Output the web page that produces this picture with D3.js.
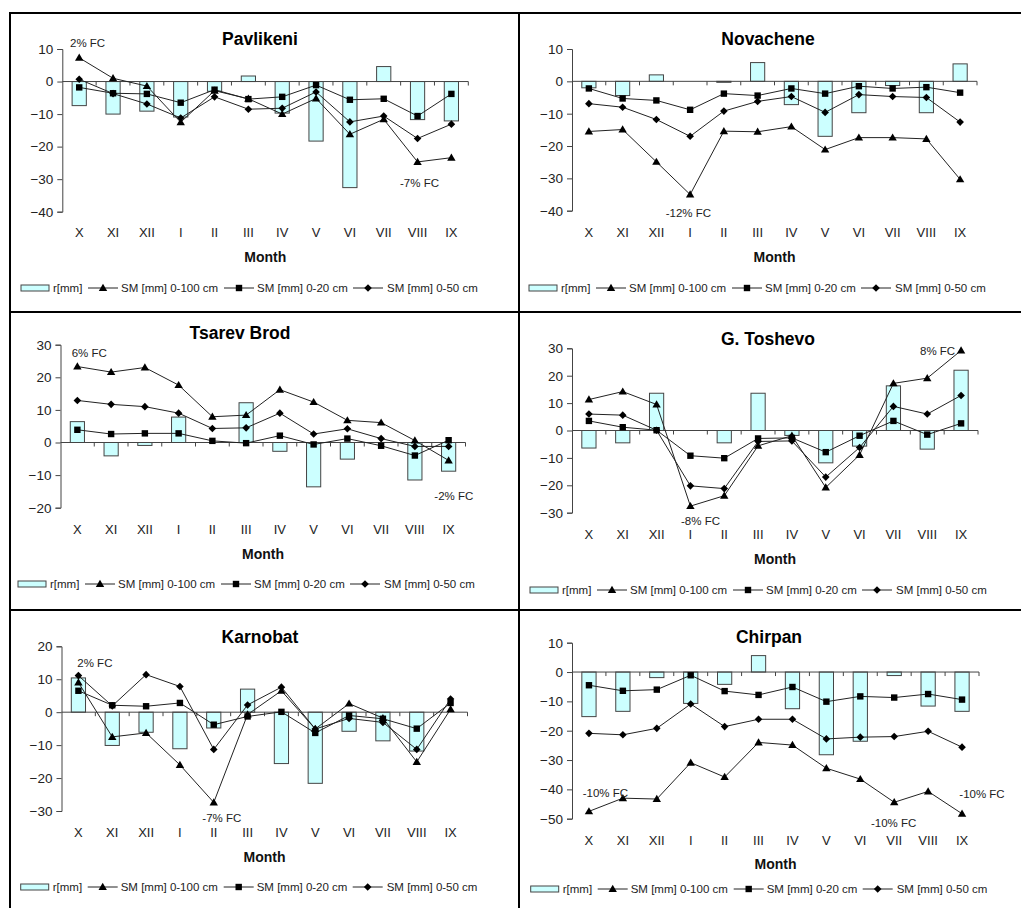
<!DOCTYPE html>
<html><head><meta charset="utf-8">
<script src="https://cdn.jsdelivr.net/npm/d3@7"></script>
<style>
body{margin:0;background:#fff}
svg{display:block}
text{font-family:Arial,"Liberation Sans",sans-serif}
</style>
</head><body>
<svg id="c" width="1021" height="908"></svg>
<script>
// ---------- DATA ----------
const months = ["X","XI","XII","I","II","III","IV","V","VI","VII","VIII","IX"];
const legendLabels = ["r[mm]","SM [mm] 0-100 cm","SM [mm] 0-20 cm","SM [mm] 0-50 cm"];

const pavR     = [-7.4,-10,-9.1,-10.9,-3,1.7,-9.7,-18.3,-32.6,4.6,-11.7,-12.1];
const pavSM100 = [7.3,1.0,-1.4,-12.5,-2.8,-5.3,-10,-5.2,-16.2,-11.6,-24.7,-23.4];
const pavSM20  = [-1.8,-3.6,-3.8,-6.5,-2.5,-5.4,-4.7,-1.1,-5.6,-5.3,-10.6,-3.8];
const pavSM50  = [0.7,-3.7,-6.9,-11.2,-4.7,-8.5,-8.2,-3.2,-12.4,-10.6,-17.5,-13.1];
const pavTicks = [10,0,-10,-20,-30,-40];
const pavNotes = ["2% FC","-7% FC"];

const novR     = [-2,-4.4,2,0,-0.3,5.8,-7.2,-17,-9.7,-1.3,-9.7,5.4];
const novSM100 = [-15.5,-14.9,-24.9,-35,-15.4,-15.6,-14,-21.1,-17.4,-17.4,-17.8,-30.3];
const novSM20  = [-2.2,-5.3,-5.9,-8.8,-3.8,-4.4,-2.2,-3.8,-1.5,-2.2,-1.8,-3.5];
const novSM50  = [-6.9,-8.0,-11.8,-17,-9.2,-6.2,-4.7,-9.6,-4.1,-4.7,-5.0,-12.6];
const novTicks = [10,0,-10,-20,-30,-40];
const novNotes = ["-12% FC"];

const tsaR     = [6.4,-4.1,-0.9,7.8,0,12.2,-2.7,-13.6,-5.1,0,-11.5,-8.8];
const tsaSM100 = [23.3,21.6,23.0,17.6,7.9,8.4,16.2,12.4,6.8,6.1,0.6,-5.5];
const tsaSM20  = [3.9,2.6,2.8,2.8,0.5,-0.2,2.1,-0.6,1.2,-1.0,-4.0,0.7];
const tsaSM50  = [12.9,11.7,11.0,9.0,4.3,4.5,9.0,2.6,4.2,1.2,-1.2,-1.2];
const tsaTicks = [30,20,10,0,-10,-20];
const tsaNotes = ["6% FC","-2% FC"];

const tosR     = [-6.4,-4.5,13.6,0,-4.5,13.6,-1.8,-11.8,-5.7,16.3,-6.8,22];
const tosSM100 = [11.3,14.2,9.5,-27.6,-23.8,-5.6,-1.9,-20.8,-8.9,17.2,19.1,29.2];
const tosSM20  = [3.5,1.2,0.1,-9.2,-10.1,-2.9,-2.7,-7.9,-1.9,3.5,-1.5,2.6];
const tosSM50  = [6.0,5.6,0.1,-20.2,-21.2,-4.0,-3.8,-17.0,-6.2,8.8,6.0,12.8];
const tosTicks = [30,20,10,0,-10,-20,-30];
const tosNotes = ["8% FC","-8% FC"];

const karR     = [10.4,-10.1,-6.1,-11.1,-4.8,7.0,-15.6,-21.6,-5.8,-8.7,-11.8,0];
const karSM100 = [9.0,-7.5,-6.3,-16.0,-27.4,-0.7,6.5,-5.1,2.6,-1.8,-15.1,0.9];
const karSM20  = [6.5,2.1,1.8,2.8,-3.8,-1.3,0.1,-6.3,-1.0,-2.0,-5.0,2.8];
const karSM50  = [11.1,1.9,11.4,7.8,-11.3,2.2,7.6,-5.1,-1.9,-3.1,-11.3,4.0];
const karTicks = [20,10,0,-10,-20,-30];
const karNotes = ["2% FC","-7% FC"];

const chiR     = [-15.2,-13.4,-1.9,-10.7,-4.2,5.6,-12.5,-28.2,-23.6,-1.2,-11.6,-13.4];
const chiSM100 = [-47.5,-43,-43.3,-30.9,-35.8,-24,-24.9,-32.8,-36.5,-44.4,-40.7,-48.3];
const chiSM20  = [-4.5,-6.4,-6.0,-1.1,-6.5,-7.8,-5.1,-10.1,-8.3,-8.7,-7.5,-9.4];
const chiSM50  = [-20.9,-21.4,-19.2,-10.9,-18.6,-16.1,-16.1,-22.8,-22.2,-22.0,-20.2,-25.6];
const chiTicks = [10,0,-10,-20,-30,-40,-50];
const chiNotes = ["-10% FC","-10% FC","-10% FC"];

const stations = [
  {name:"Pavlikeni",   r:pavR, sm100:pavSM100, sm20:pavSM20, sm50:pavSM50, ticks:pavTicks, notes:pavNotes},
  {name:"Novachene",   r:novR, sm100:novSM100, sm20:novSM20, sm50:novSM50, ticks:novTicks, notes:novNotes},
  {name:"Tsarev Brod", r:tsaR, sm100:tsaSM100, sm20:tsaSM20, sm50:tsaSM50, ticks:tsaTicks, notes:tsaNotes},
  {name:"G. Toshevo",  r:tosR, sm100:tosSM100, sm20:tosSM20, sm50:tosSM50, ticks:tosTicks, notes:tosNotes},
  {name:"Karnobat",    r:karR, sm100:karSM100, sm20:karSM20, sm50:karSM50, ticks:karTicks, notes:karNotes},
  {name:"Chirpan",     r:chiR, sm100:chiSM100, sm20:chiSM20, sm50:chiSM50, ticks:chiTicks, notes:chiNotes}
];

// ---------- LAYOUT ----------
const layout = [
  {ax:62.3, w:406, yTop:49,    yBot:211.7, title:[260,39],  xl:232, mon:257, leg:[21,288],
   notes:[[70,42.7],[400,183.3]]},
  {ax:572,  w:405, yTop:49,    yBot:210.7, title:[768,39],  xl:232, mon:257, leg:[529,288],
   notes:[[665.7,213.3]]},
  {ax:60.5, w:405, yTop:344.7, yBot:507.7, title:[240,333], xl:529, mon:554, leg:[18,584],
   notes:[[71.7,353.3],[434.3,495.7]]},
  {ax:572,  w:406, yTop:348.3, yBot:512.7, title:[768,339], xl:534.5, mon:559, leg:[530,590],
   notes:[[920,351],[681,520.5]]},
  {ax:61.5, w:406, yTop:646.3, yBot:811,   title:[260,637], xl:832, mon:857, leg:[20.7,887],
   notes:[[77.3,663.3],[202.3,818.3]]},
  {ax:572,  w:407, yTop:642.7, yBot:818.7, title:[769,637], xl:840, mon:864.3, leg:[530.7,889],
   notes:[[582.7,792.7],[871,823.3],[959.3,794.3]]}
];

const svg = d3.select("#c");
const lineCol = "#222";
const axisCol = "#444";
const barFill = "#ccffff";
const barStroke = "#444";

// marker path generators
function tri(x,y){return `M${x},${y-4.2}L${x+4.2},${y+3}L${x-4.2},${y+3}Z`;}
function sq(x,y){return `M${x-3.2},${y-3.2}h6.4v6.4h-6.4Z`;}
function dia(x,y){return `M${x},${y-3.8}L${x+3.8},${y}L${x},${y+3.8}L${x-3.8},${y}Z`;}
const markers = [tri, sq, dia];

// frame
const frame = svg.append("g").attr("stroke","#000").attr("stroke-width",2);
frame.append("line").attr("x1",10).attr("x2",1021).attr("y1",13).attr("y2",13);
frame.append("line").attr("x1",10).attr("x2",10).attr("y1",12).attr("y2",908);
frame.append("line").attr("x1",519).attr("x2",519).attr("y1",12).attr("y2",908);
frame.append("line").attr("x1",10).attr("x2",1021).attr("y1",312).attr("y2",312);
frame.append("line").attr("x1",10).attr("x2",1021).attr("y1",610).attr("y2",610);

stations.forEach((st,i)=>{
  const L = layout[i];
  const g = svg.append("g");
  const x = d3.scaleBand().domain(months).range([L.ax, L.ax+L.w]).paddingInner(0).paddingOuter(0);
  const y = d3.scaleLinear().domain([d3.min(st.ticks), d3.max(st.ticks)]).range([L.yBot, L.yTop]);
  const cx = m => x(m) + x.bandwidth()/2;
  const bw = x.bandwidth()*0.42;

  // bars
  g.append("g").selectAll("rect").data(months.map((m,k)=>({m, v:st.r[k]})))
    .join("rect")
    .attr("x", d=>cx(d.m)-bw/2)
    .attr("y", d=>y(Math.max(0,d.v)))
    .attr("width", bw)
    .attr("height", d=>Math.abs(y(d.v)-y(0)))
    .attr("fill", barFill).attr("stroke", barStroke).attr("stroke-width",1);

  // y axis
  const yAxis = d3.axisLeft(y).tickValues(st.ticks).tickSize(5).tickPadding(4).tickFormat(d3.format("d"));
  const ya = g.append("g").attr("transform",`translate(${L.ax},0)`).call(yAxis);
  ya.select(".domain").attr("stroke",axisCol);
  ya.selectAll(".tick line").attr("stroke",axisCol);
  ya.selectAll(".tick text").attr("fill","#222").style("font-size","13.5px")
    .style("font-family","Arial, 'Liberation Sans', sans-serif");

  // x axis line at zero with boundary ticks
  const xa = g.append("g");
  xa.append("line").attr("x1",L.ax).attr("x2",L.ax+L.w).attr("y1",y(0)).attr("y2",y(0))
    .attr("stroke",axisCol).attr("stroke-width",1);
  xa.selectAll("line.t").data(d3.range(1,13)).join("line").attr("class","t")
    .attr("x1",k=>L.ax+k*x.bandwidth()).attr("x2",k=>L.ax+k*x.bandwidth())
    .attr("y1",y(0)).attr("y2",y(0)+4).attr("stroke",axisCol);

  // category labels (low position)
  g.append("g").selectAll("text").data(months).join("text")
    .attr("x", m=>cx(m)).attr("y", L.xl).attr("dy","0.35em")
    .attr("text-anchor","middle").attr("fill","#222").style("font-size","13px").text(m=>m);

  // lines + markers
  const series = [st.sm100, st.sm20, st.sm50];
  const lineGen = d3.line().x(d=>cx(d.m)).y(d=>y(d.v));
  series.forEach((s,si)=>{
    const pts = months.map((m,k)=>({m, v:s[k]}));
    g.append("path").datum(pts).attr("d",lineGen).attr("fill","none")
      .attr("stroke",lineCol).attr("stroke-width",1);
  });
  series.forEach((s,si)=>{
    const pts = months.map((m,k)=>({m, v:s[k]}));
    g.append("g").selectAll("path").data(pts).join("path")
      .attr("d", d=>markers[si](cx(d.m), y(d.v))).attr("fill","#000");
  });

  // title, axis title
  g.append("text").attr("x",L.title[0]).attr("y",L.title[1]).attr("dy","0.35em")
    .attr("text-anchor","middle").style("font-size","17.5px").style("font-weight","bold")
    .attr("fill","#000").text(st.name);
  g.append("text").attr("x",(L.ax+L.ax+L.w)/2).attr("y",L.mon).attr("dy","0.35em")
    .attr("text-anchor","middle").style("font-size","14px").style("font-weight","bold")
    .attr("fill","#111").text("Month");

  // notes
  st.notes.forEach((t,k)=>{
    g.append("text").attr("x",L.notes[k][0]).attr("y",L.notes[k][1]).attr("dy","0.35em")
      .style("font-size","11.5px").attr("fill","#222").text(t);
  });

  // legend
  const lg = g.append("g").attr("transform",`translate(${L.leg[0]},${L.leg[1]})`);
  lg.append("rect").attr("x",0).attr("y",-3).attr("width",28).attr("height",6)
    .attr("fill",barFill).attr("stroke",barStroke);
  lg.append("text").attr("x",32).attr("dy","0.35em").style("font-size","11.5px").attr("fill","#222").text(legendLabels[0]);
  const segs = [[67,100],[203,236],[332,366]];
  segs.forEach((sg,k)=>{
    lg.append("line").attr("x1",sg[0]).attr("x2",sg[0]+30).attr("y1",0).attr("y2",0)
      .attr("stroke",lineCol).attr("stroke-width",1);
    lg.append("path").attr("d",markers[k](sg[0]+15,0)).attr("fill","#000");
    lg.append("text").attr("x",sg[1]).attr("dy","0.35em").style("font-size","11.5px")
      .attr("fill","#222").text(legendLabels[k+1]);
  });
});
</script>
</body></html>
